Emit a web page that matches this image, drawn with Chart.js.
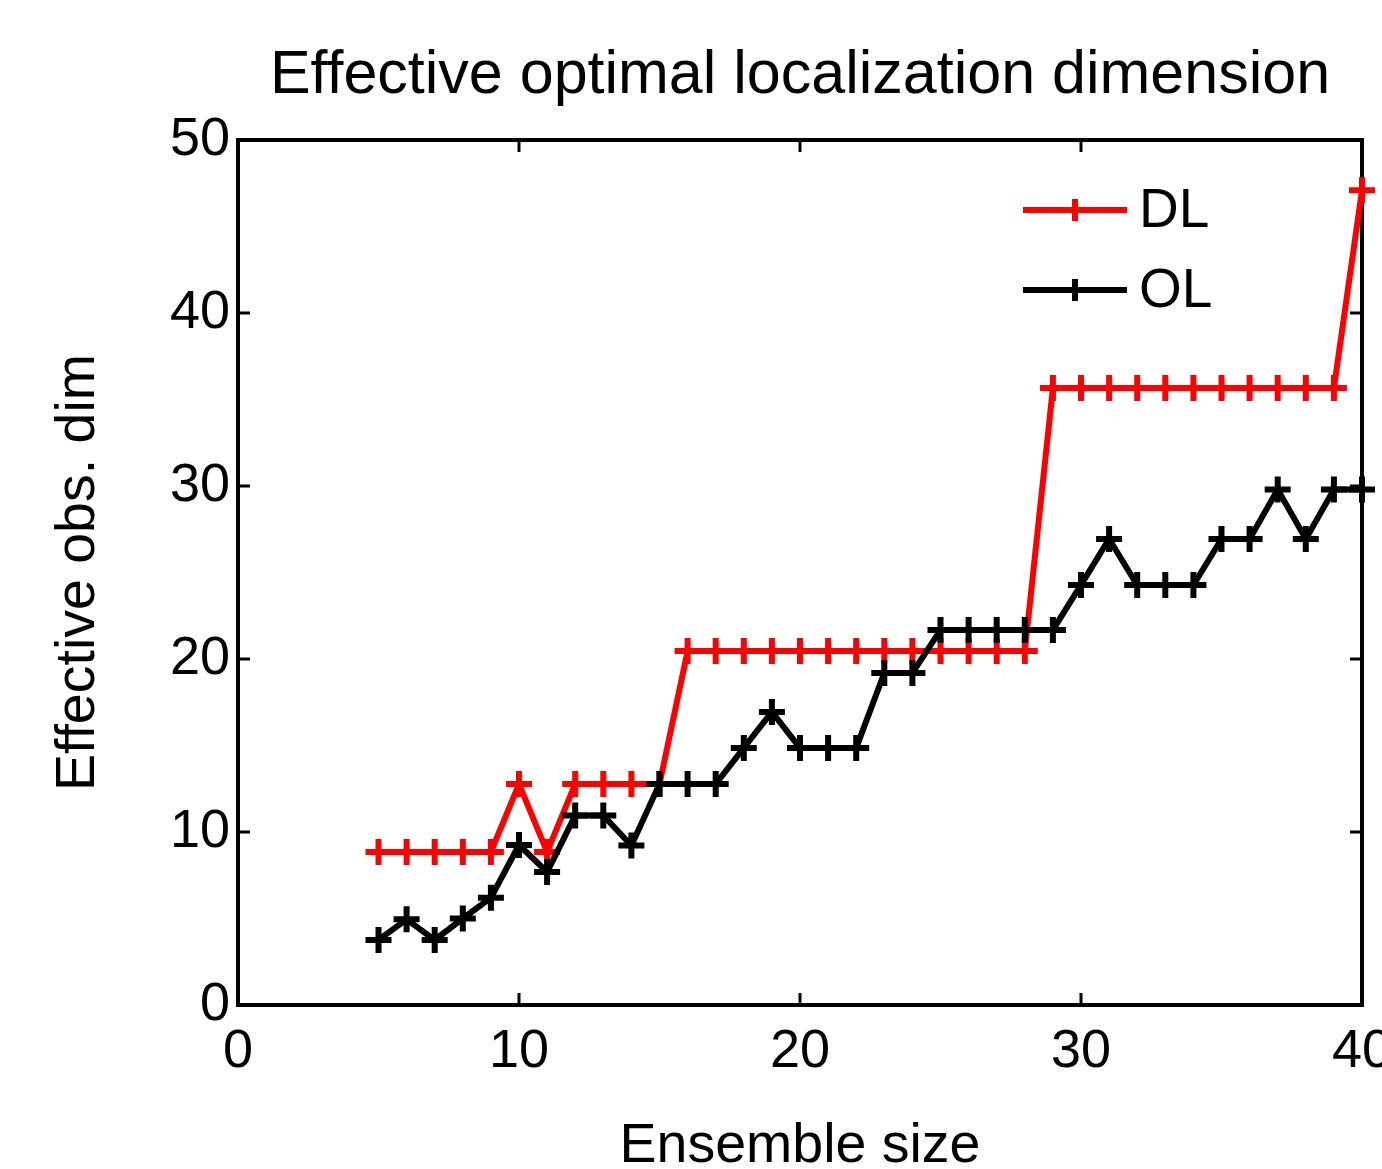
<!DOCTYPE html>
<html>
<head>
<meta charset="utf-8">
<script src="https://cdn.jsdelivr.net/npm/chart.js@4.4.0/dist/chart.umd.min.js"></script>
<style>
html, body { margin: 0; padding: 0; background: #fff; overflow: hidden; width: 1382px; height: 1169px; }
canvas { display: block; }
</style>
</head>
<body>
<canvas id="dimChart" width="1420" height="1200"></canvas>
<script>
// Values
const ensembleSizes = [5, 6, 7, 8, 9, 10, 11, 12, 13, 14, 15, 16, 17, 18, 19, 20, 21, 22,
    23, 24, 25, 26, 27, 28, 29, 30, 31, 32, 33, 34, 35, 36, 37, 38, 39, 40];
const dlValues = [8.85, 8.85, 8.85, 8.85, 8.85, 12.77, 8.85, 12.77, 12.77, 12.77, 12.77,
    20.46, 20.46, 20.46, 20.46, 20.46, 20.46, 20.46, 20.46, 20.46, 20.46, 20.46, 20.46, 20.46,
    35.66, 35.66, 35.66, 35.66, 35.66, 35.66, 35.66, 35.66, 35.66, 35.66, 35.66, 47.1];
const olValues = [3.76, 4.95, 3.76, 5.0, 6.2, 9.25, 7.69, 10.95, 10.95, 9.22, 12.77, 12.77,
    12.77, 14.86, 16.94, 14.86, 14.86, 14.86, 19.19, 19.19, 21.68, 21.68, 21.68, 21.68, 21.68,
    24.28, 26.94, 24.28, 24.28, 24.28, 26.94, 26.94, 29.8, 26.94, 29.8, 29.8];
const xTicks = [0, 10, 20, 30, 40];
const yTicks = [0, 10, 20, 30, 40, 50];
const seriesNames = ['DL', 'OL'];
const seriesColors = ['#ff0000', '#000000'];

const FONT = "'Liberation Sans', Arial, Helvetica, sans-serif";

const toPoints = (ys) => ys.map((y, i) => ({ x: ensembleSizes[i], y: y }));

// MATLAB style box with inward ticks plus the legend
const boxPlugin = {
    id: 'matlabBox',
    beforeDatasetsDraw(chart) {
        const { ctx, chartArea: a, scales } = chart;
        const len = 12;
        ctx.save();
        ctx.strokeStyle = '#000';
        ctx.lineWidth = 4;
        ctx.lineCap = 'square';
        ctx.strokeRect(a.left, a.top, a.right - a.left, a.bottom - a.top);
        ctx.lineCap = 'butt';
        ctx.lineWidth = 3;
        ctx.beginPath();
        xTicks.forEach(v => {
            const px = scales.x.getPixelForValue(v);
            ctx.moveTo(px, a.bottom); ctx.lineTo(px, a.bottom - len);
            ctx.moveTo(px, a.top); ctx.lineTo(px, a.top + len);
        });
        yTicks.forEach(v => {
            const py = scales.y.getPixelForValue(v);
            ctx.moveTo(a.left, py); ctx.lineTo(a.left + len, py);
            ctx.moveTo(a.right, py); ctx.lineTo(a.right - len, py);
        });
        ctx.stroke();
        ctx.restore();
    },
    afterDraw(chart) {
        const { ctx, chartArea: a } = chart;
        ctx.save();
        ctx.font = '55px ' + FONT;
        ctx.textBaseline = 'middle';
        ctx.textAlign = 'left';
        seriesNames.forEach((name, i) => {
            const y = a.top + 70 + i * 80;
            const x0 = a.right - 339, x1 = a.right - 235;
            ctx.strokeStyle = seriesColors[i];
            ctx.lineWidth = 6;
            ctx.beginPath();
            ctx.moveTo(x0, y); ctx.lineTo(x1, y);
            const cx = (x0 + x1) / 2;
            ctx.moveTo(cx, y - 11); ctx.lineTo(cx, y + 11);
            ctx.stroke();
            ctx.fillStyle = '#000';
            ctx.fillText(name, x1 + 12, y + 2);
        });
        ctx.restore();
    }
};

const el = document.getElementById('dimChart');
new Chart(el, {
    type: 'line',
    data: {
        datasets: [
            {
                label: 'OL',
                data: toPoints(olValues),
                borderColor: seriesColors[1],
                backgroundColor: seriesColors[1],
                borderWidth: 6,
                pointStyle: 'cross',
                pointRadius: 13,
                pointBorderWidth: 6,
                tension: 0,
                clip: false,
                order: 0
            },
            {
                label: 'DL',
                data: toPoints(dlValues),
                borderColor: seriesColors[0],
                backgroundColor: seriesColors[0],
                borderWidth: 6,
                pointStyle: 'cross',
                pointRadius: 13,
                pointBorderWidth: 6,
                tension: 0,
                clip: false,
                order: 1
            }
        ]
    },
    options: {
        responsive: false,
        animation: false,
        layout: { padding: { top: 0, left: 0, right: 58, bottom: 0 } },
        plugins: {
            legend: { display: false },
            tooltip: { enabled: false },
            title: {
                display: true,
                text: 'Effective optimal localization dimension',
                color: '#000',
                fullSize: false,
                font: { family: FONT, size: 61, weight: 'normal', lineHeight: 1.2 },
                padding: { top: 40, bottom: 26.8 }
            }
        },
        scales: {
            x: {
                type: 'linear',
                min: 0,
                max: 40,
                afterBuildTicks: (s) => { s.ticks = xTicks.map(v => ({ value: v })); },
                afterFit: (s) => { s.height = 195; },
                grid: { display: false, drawTicks: false },
                border: { display: false },
                ticks: { color: '#000', padding: 15, maxRotation: 0, font: { family: FONT, size: 54 } },
                title: {
                    display: true,
                    text: 'Ensemble size',
                    color: '#000',
                    font: { family: FONT, size: 55.5 },
                    padding: { top: 0, bottom: 20 }
                }
            },
            y: {
                type: 'linear',
                min: 0,
                max: 50,
                afterBuildTicks: (s) => { s.ticks = yTicks.map(v => ({ value: v })); },
                afterFit: (s) => { s.width = 238; },
                grid: { display: false, drawTicks: false },
                border: { display: false },
                ticks: { color: '#000', padding: 8, font: { family: FONT, size: 54 } },
                title: {
                    display: true,
                    text: 'Effective obs. dim',
                    color: '#000',
                    font: { family: FONT, size: 55.5 },
                    padding: { top: 45, bottom: 0 }
                }
            }
        }
    },
    plugins: [boxPlugin]
});
</script>
</body>
</html>
